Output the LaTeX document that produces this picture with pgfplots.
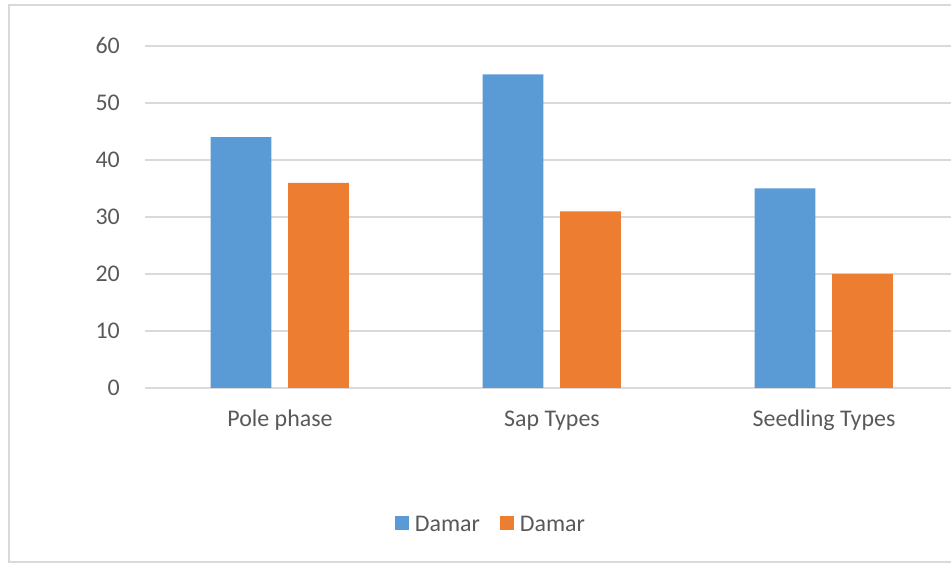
\documentclass[border=0pt]{standalone}
\usepackage{fontspec}
\setmainfont{Carlito}
\usepackage{pgfplots}
\pgfplotsset{compat=1.18}
\definecolor{cblue}{HTML}{5B9BD5}
\definecolor{corange}{HTML}{ED7D31}
\definecolor{gridc}{HTML}{D9D9D9}
\definecolor{txt}{HTML}{595959}
\begin{document}
\begin{tikzpicture}[x=1bp,y=1bp]
\useasboundingbox (0,0) rectangle (951,563);
\draw[gridc, line width=1.5bp] (951,558) -- (9,558) -- (9,1.2) -- (951,1.2);
\begin{axis}[
  at={(145bp,175bp)}, anchor=south west, scale only axis,
  width=806bp, height=342bp,
  xmin=-0.4963, xmax=2.467, ymin=0, ymax=60,
  ytick={0,10,...,60}, xtick={0,1,2},
  xticklabels={Pole phase, Sap Types, Seedling Types},
  axis line style={draw=none}, major tick length=0pt,
  ymajorgrids, grid style={gridc, line width=1.5bp},
  ticklabel style={font=\fontsize{24}{28}\selectfont, text=txt},
  /pgf/number format/assume math mode=true,
  yticklabel style={anchor=east, inner sep=0pt, xshift=-25bp},
  xticklabel style={anchor=base, inner sep=0pt, yshift=-38.5bp},
  ybar, bar width=0.224,
  legend columns=2,
  legend style={at={(0.428,-0.399)}, anchor=center, draw=none,
    font=\fontsize{24}{28}\selectfont, text=txt,
    nodes={inner sep=0pt},
    /tikz/every odd column/.append style={column sep=6bp},
    /tikz/every even column/.append style={column sep=20bp}},
  legend image code/.code={\fill[#1] (0bp,-5bp) rectangle (14bp,9bp);},
]
\addplot[fill=cblue, draw=none, bar shift=-0.1434] coordinates {(0,44) (1,55) (2,35)};
\addlegendentry{Damar}
\addplot[fill=corange, draw=none, bar shift=0.1415] coordinates {(0,36) (1,31) (2,20)};
\addlegendentry{Damar}
\end{axis}
\end{tikzpicture}
\end{document}
